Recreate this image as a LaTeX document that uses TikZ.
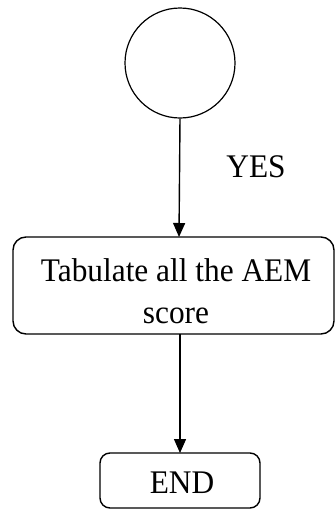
\documentclass[tikz,border=0pt]{standalone}
\usepackage{fontspec}
\setmainfont[FakeStretch=0.95]{Liberation Serif}
\usetikzlibrary{arrows.meta}
\begin{document}
\begin{tikzpicture}[x=1pt,y=-1pt,
  line width=1.4pt,
  flow/.style={-{Triangle[length=14pt,width=12pt]}},
  boxtext/.style={font=\fontsize{33}{42}\selectfont, align=center},
]
\useasboundingbox (0,0) rectangle (335,509);
% start connector circle
\node (start) [draw, circle, minimum size=110pt, inner sep=0pt, line width=1.2pt] at (180,63) {};
% process box
\draw[rounded corners=13pt] (13,237) rectangle (334,334);
\coordinate (tabtop) at (179,237);
\coordinate (tabbot) at (180,334);
\node (tab) [boxtext] at (176,291) {Tabulate all the AEM\\score};
% end terminator
\draw[rounded corners=10pt] (100,453) rectangle (260,508);
\coordinate (endtop) at (180,453);
\node (end) [boxtext] at (182,483) {END};
% label on the first connector
\node (yes) [boxtext] at (256,167) {YES};
% connectors
\draw[flow] (start.south) -- (tabtop);
\draw[flow] (tabbot) -- (endtop);
\end{tikzpicture}
\end{document}
